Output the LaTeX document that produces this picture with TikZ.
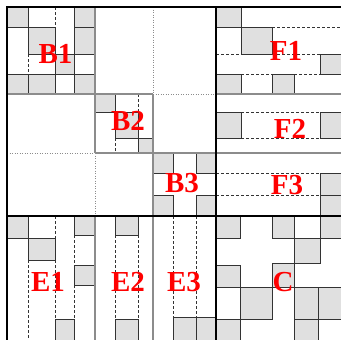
\documentclass[tikz,border=0pt]{standalone}
\usepackage{fontspec}
\setmainfont{Liberation Serif}
\definecolor{cellgray}{HTML}{E0E0E0}
\definecolor{celline}{HTML}{333333}
\definecolor{blkgray}{HTML}{8C8C8C}
\begin{document}
\begin{tikzpicture}[x=1pt,y=-1pt,
  cell/.style={fill=cellgray, draw=celline, line width=0.9pt},
  dsh/.style={draw=celline, line width=0.8pt, dash pattern=on 3pt off 2pt},
  blk/.style={draw=blkgray, line width=1.4pt},
  dotl/.style={draw=blkgray, line width=0.9pt, dash pattern=on 1pt off 1.5pt},
  sep/.style={draw=black, line width=2.6pt},
  lbl/.style={text=red, font=\fontsize{29}{29}\selectfont\bfseries, inner sep=0pt}
]
\useasboundingbox (0,0) rectangle (341,340);
\fill[white] (0,0) rectangle (341,340);
\begin{scope}
\clip (0,0) rectangle (341,340);
% ---------- dashed separators ----------
% B1
\draw[dsh] (55,7) -- (55,27);
\draw[dsh] (28,54) -- (28,74);
% B2
\draw[dsh] (138,94) -- (138,112);
\draw[dsh] (115,138) -- (115,153);
% F1
\draw[dsh] (272,27) -- (341,27);
\draw[dsh] (216,54) -- (241,54);
\draw[dsh] (272,54) -- (320,54);
\draw[dsh] (241,74) -- (272,74);
\draw[dsh] (294,74) -- (320,74);
% F2
\draw[dsh] (241,112) -- (320,112);
\draw[dsh] (241,138) -- (320,138);
% F3
\draw[dsh] (216,173) -- (320,173);
\draw[dsh] (216,195) -- (320,195);
% E1
\draw[dsh] (28,260) -- (28,340);
\draw[dsh] (55,216) -- (55,238);
\draw[dsh] (55,260) -- (55,319);
\draw[dsh] (74,235) -- (74,265);
\draw[dsh] (74,285) -- (74,319);
% E2
\draw[dsh] (115,235) -- (115,319);
\draw[dsh] (138,235) -- (138,319);
% E3
\draw[dsh] (173,216) -- (173,317);
\draw[dsh] (196,216) -- (196,317);
% ---------- dotted grid lines ----------
\draw[dotl] (153,7) -- (153,94);
\draw[dotl] (153,94) -- (216,94);
\draw[dotl] (7,153) -- (95,153);
\draw[dotl] (95,153) -- (95,216);
% ---------- gray cells ----------
% B1
\draw[cell] (7,7) rectangle (28,27);
\draw[cell] (74,7) rectangle (95,27);
\draw[cell] (28,27) rectangle (55,54);
\draw[cell] (74,27) rectangle (95,54);
\draw[cell] (55,54) rectangle (74,74);
\draw[cell] (7,74) rectangle (28,94);
\draw[cell] (28,74) rectangle (55,94);
\draw[cell] (74,74) rectangle (95,94);
% B2
\draw[cell] (95,94) rectangle (115,112);
\draw[cell] (115,112) rectangle (138,138);
\draw[cell] (138,138) rectangle (153,153);
% B3
\draw[cell] (153,153) rectangle (173,173);
\draw[cell] (196,153) rectangle (216,173);
\draw[cell] (153,195) rectangle (173,216);
\draw[cell] (196,195) rectangle (216,216);
% F1
\draw[cell] (216,7) rectangle (241,27);
\draw[cell] (241,27) rectangle (272,54);
\draw[cell] (320,54) rectangle (345,74);
\draw[cell] (216,74) rectangle (241,94);
\draw[cell] (272,74) rectangle (294,94);
% F2
\draw[cell] (216,112) rectangle (241,138);
\draw[cell] (320,112) rectangle (345,138);
% F3
\draw[cell] (320,173) rectangle (345,195);
\draw[cell] (320,195) rectangle (345,216);
% E1
\draw[cell] (7,216) rectangle (28,238);
\draw[cell] (28,238) rectangle (55,260);
\draw[cell] (74,216) rectangle (95,235);
\draw[cell] (74,265) rectangle (95,285);
\draw[cell] (55,319) rectangle (74,345);
% E2
\draw[cell] (115,216) rectangle (138,235);
\draw[cell] (115,319) rectangle (138,345);
% E3
\draw[cell] (173,317) rectangle (196,345);
\draw[cell] (196,317) rectangle (216,345);
% C
\draw[cell] (216,216) rectangle (240,238);
\draw[cell] (272,216) rectangle (294,238);
\draw[cell] (320,216) rectangle (345,238);
\draw[cell] (294,238) rectangle (320,263);
\draw[cell] (272,263) rectangle (294,287);
\draw[cell] (216,265) rectangle (240,287);
\draw[cell] (240,287) rectangle (272,319);
\draw[cell] (294,287) rectangle (318,319);
\draw[cell] (318,287) rectangle (345,319);
\draw[cell] (294,319) rectangle (318,345);
\draw[cell] (216,319) rectangle (240,345);
% ---------- block borders ----------
\draw[blk] (95,7) -- (95,153);
\draw[blk] (7,94) -- (153,94);
\draw[blk] (153,94) -- (153,216);
\draw[blk] (95,153) -- (216,153);
\draw[blk] (95,216) -- (95,340);
\draw[blk] (153,216) -- (153,340);
\draw[blk] (216,94) -- (341,94);
\draw[blk] (216,153) -- (341,153);
% ---------- thick separators ----------
\draw[sep] (7,340) -- (7,7) -- (341,7);
\draw[sep] (216,7) -- (216,340);
\draw[sep] (7,216) -- (341,216);
\end{scope}
% ---------- labels ----------
\node[lbl] (b1) at (55.5,54) {B1};
\node[lbl] (b2) at (128,121) {B2};
\node[lbl] (b3) at (182,183) {B3};
\node[lbl] (f1) at (286,51) {F1};
\node[lbl] (f2) at (290,129) {F2};
\node[lbl] (f3) at (287,185) {F3};
\node[lbl] (e1) at (48,282) {E1};
\node[lbl] (e2) at (128,282) {E2};
\node[lbl] (e3) at (184,282) {E3};
\node[lbl] (c) at (283,282) {C};
\end{tikzpicture}
\end{document}
